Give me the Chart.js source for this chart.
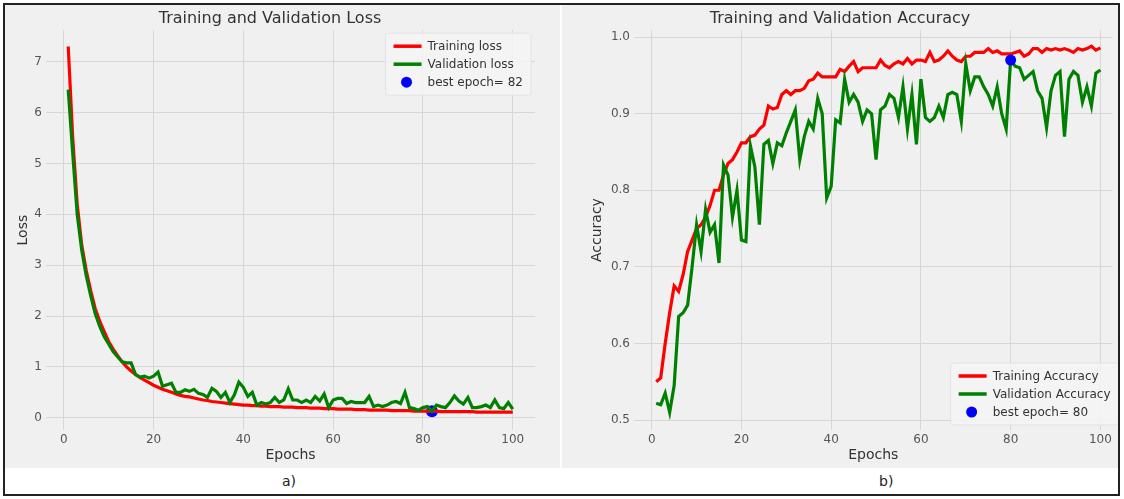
<!DOCTYPE html>
<html>
<head>
<meta charset="utf-8">
<script src="https://cdn.jsdelivr.net/npm/chart.js@4.4.0/dist/chart.umd.min.js"></script>
<style>
  body { margin: 0; background: #fff; font-family: "DejaVu Sans", sans-serif; }
  #frame { position: absolute; left: 3px; top: 3px; width: 1117px; height: 493px; border: 2px solid #222; box-sizing: border-box; background: #fff; overflow: hidden; }
  .panel { position: absolute; top: 0; height: 463px; background: #f0f0f0; }
  #left { left: 0; width: 555px; }
  #right { left: 557px; width: 556px; }
  .cap { position: absolute; top: 468px; font-size: 14px; color: #222; }
</style>
</head>
<body>
<div id="frame">
  <div class="panel" id="left"><canvas id="lossChart" width="555" height="463"></canvas></div>
  <div class="panel" id="right"><canvas id="accChart" width="556" height="463"></canvas></div>
  <div class="cap" style="left: 277px;">a)</div>
  <div class="cap" style="left: 874px;">b)</div>
</div>
<script>
const trainLoss = [7.3, 5.5, 4.2, 3.4, 2.9, 2.5, 2.15, 1.9, 1.7, 1.5,
  1.35, 1.22, 1.1, 1.0, 0.92, 0.85, 0.79, 0.74, 0.69, 0.64,
  0.6, 0.56, 0.53, 0.5, 0.47, 0.44, 0.42, 0.41, 0.39, 0.37,
  0.35, 0.34, 0.32, 0.31, 0.3, 0.29, 0.28, 0.27, 0.26, 0.25,
  0.25, 0.24, 0.24, 0.23, 0.23, 0.22, 0.22, 0.22, 0.21, 0.21,
  0.21, 0.2, 0.2, 0.2, 0.19, 0.19, 0.19, 0.18, 0.18, 0.18,
  0.17, 0.17, 0.17, 0.17, 0.16, 0.16, 0.16, 0.15, 0.15, 0.15,
  0.15, 0.15, 0.14, 0.14, 0.14, 0.14, 0.14, 0.13, 0.13, 0.13,
  0.13, 0.13, 0.13, 0.12, 0.12, 0.12, 0.12, 0.12, 0.12, 0.12,
  0.12, 0.11, 0.11, 0.11, 0.11, 0.11, 0.11, 0.11, 0.11, 0.11];
const valLoss = [6.45, 5.2, 4.0, 3.3, 2.8, 2.4, 2.05, 1.8, 1.6, 1.45,
  1.3, 1.2, 1.1, 1.08, 1.08, 0.85, 0.8, 0.82, 0.78, 0.82,
  0.9, 0.62, 0.65, 0.68, 0.5, 0.5, 0.55, 0.52, 0.56, 0.48,
  0.46, 0.4, 0.58, 0.52, 0.4, 0.5, 0.3, 0.45, 0.7, 0.6,
  0.42, 0.5, 0.25, 0.3, 0.27, 0.3, 0.4, 0.3, 0.35, 0.57,
  0.35, 0.35, 0.3, 0.35, 0.3, 0.42, 0.33, 0.47, 0.2, 0.35,
  0.38, 0.38, 0.28, 0.32, 0.3, 0.3, 0.3, 0.42, 0.22, 0.25,
  0.22, 0.25, 0.3, 0.32, 0.28, 0.5, 0.2, 0.18, 0.15, 0.2,
  0.22, 0.13, 0.25, 0.22, 0.2, 0.3, 0.43, 0.33, 0.27, 0.4,
  0.2, 0.2, 0.22, 0.25, 0.2, 0.35, 0.2, 0.18, 0.3, 0.17];
const trainAcc = [0.55, 0.555, 0.6, 0.64, 0.675, 0.668, 0.69, 0.72, 0.735, 0.75,
  0.755, 0.765, 0.78, 0.8, 0.8, 0.82, 0.835, 0.84, 0.85, 0.862,
  0.862, 0.87, 0.872, 0.88, 0.885, 0.91, 0.906, 0.908, 0.925, 0.93,
  0.925, 0.93, 0.93, 0.933, 0.943, 0.945, 0.953, 0.948, 0.948, 0.948,
  0.948, 0.958, 0.955, 0.962, 0.968, 0.955, 0.96, 0.96, 0.96, 0.96,
  0.97, 0.963, 0.96, 0.965, 0.968, 0.965, 0.972, 0.965, 0.97, 0.97,
  0.968, 0.98, 0.968, 0.97, 0.975, 0.982, 0.975, 0.97, 0.968, 0.975,
  0.975, 0.98, 0.98, 0.98, 0.985, 0.98, 0.982, 0.978, 0.978, 0.978,
  0.98, 0.982, 0.975, 0.978, 0.985, 0.985, 0.98, 0.985, 0.983, 0.985,
  0.983, 0.985, 0.983, 0.98, 0.985, 0.983, 0.985, 0.988, 0.983, 0.986];
const valAcc = [0.522, 0.52, 0.535, 0.51, 0.545, 0.635, 0.64, 0.65, 0.7, 0.755,
  0.72, 0.775, 0.745, 0.755, 0.705, 0.833, 0.82, 0.765, 0.8, 0.735,
  0.733, 0.858, 0.83, 0.755, 0.86, 0.865, 0.835, 0.862, 0.858, 0.875,
  0.89, 0.905, 0.84, 0.87, 0.89, 0.88, 0.92, 0.9, 0.79, 0.805,
  0.892, 0.888, 0.945, 0.915, 0.925, 0.915, 0.89, 0.905, 0.9, 0.84,
  0.905, 0.91, 0.925, 0.92, 0.895, 0.935, 0.88, 0.925, 0.86, 0.945,
  0.895, 0.89, 0.895, 0.91, 0.895, 0.925, 0.928, 0.925, 0.89, 0.965,
  0.93, 0.948, 0.948, 0.935, 0.925, 0.91, 0.935, 0.9, 0.88, 0.97,
  0.962, 0.96, 0.945, 0.95, 0.955, 0.93, 0.92, 0.882, 0.93, 0.95,
  0.955, 0.87, 0.945, 0.955, 0.95, 0.915, 0.935, 0.91, 0.953, 0.957];
const lossTicks = [0, 1, 2, 3, 4, 5, 6, 7];
const accTicks = [0.5, 0.6, 0.7, 0.8, 0.9, 1.0];
const epochTicks = [0, 20, 40, 60, 80, 100];
const bestLossEpoch = 82;
const bestAccEpoch = 80;

const epochs = trainLoss.map((_, i) => i + 1);
const pts = (arr) => arr.map((v, i) => ({ x: epochs[i], y: v }));

const FONT = "DejaVu Sans";
const GRID = "#d7d7d7";

// legend drawn inside the plot area, like matplotlib
function insideLegend(items, corner) {
  return {
    id: "insideLegend",
    afterDatasetsDraw(chart) {
      const { ctx, chartArea } = chart;
      ctx.save();
      ctx.font = "12px " + FONT;
      const rowH = 18;
      let w = 0;
      items.forEach(it => { w = Math.max(w, ctx.measureText(it.text).width); });
      const boxW = w + 50, boxH = rowH * items.length + 8;
      let x0, y0;
      if (corner === "tr") { x0 = chartArea.right - boxW - 4; y0 = chartArea.top + 3; }
      else { x0 = chartArea.right - boxW + 6; y0 = chartArea.bottom - boxH - 5; }
      ctx.fillStyle = "rgba(244,244,244,0.85)";
      ctx.strokeStyle = "#e2e2e2";
      ctx.lineWidth = 1;
      ctx.beginPath();
      ctx.roundRect(x0, y0, boxW, boxH, 3);
      ctx.fill();
      ctx.stroke();
      items.forEach((it, i) => {
        const y = y0 + 4 + rowH * i + rowH / 2;
        if (it.type === "line") {
          ctx.strokeStyle = it.color;
          ctx.lineWidth = 3.5;
          ctx.beginPath();
          ctx.moveTo(x0 + 8, y);
          ctx.lineTo(x0 + 36, y);
          ctx.stroke();
        } else {
          ctx.fillStyle = it.color;
          ctx.beginPath();
          ctx.arc(x0 + 21, y, 5.5, 0, Math.PI * 2);
          ctx.fill();
        }
        ctx.fillStyle = "#333";
        ctx.textBaseline = "middle";
        ctx.fillText(it.text, x0 + 42, y + 1);
      });
      ctx.restore();
    }
  };
}

function makeOptions(cfg) {
  return {
    responsive: false,
    animation: false,
    layout: { padding: cfg.padding },
    plugins: {
      legend: { display: false },
      tooltip: { enabled: false },
      title: {
        display: true,
        text: cfg.title,
        color: "#333",
        font: { family: FONT, size: 16, weight: "normal" },
        padding: { top: 4, bottom: 2 }
      }
    },
    scales: {
      x: {
        type: "linear",
        min: -3.95,
        max: cfg.xMax,
        afterBuildTicks: (s) => { s.ticks = epochTicks.map(v => ({ value: v })); },
        afterFit: (s) => { s.height = 38; },
        grid: { color: GRID, drawTicks: false },
        border: { display: false },
        ticks: { color: "#555", padding: 3, font: { family: FONT, size: 12 } },
        title: { display: true, text: "Epochs", color: "#333", font: { family: FONT, size: 14 }, padding: { top: 2, bottom: 4 } }
      },
      y: {
        min: cfg.yMin,
        max: cfg.yMax,
        afterBuildTicks: (s) => { s.ticks = cfg.yTicks.map(v => ({ value: v })); },
        afterFit: (s) => { s.width = cfg.yWidth; },
        grid: { color: GRID, drawTicks: false },
        border: { display: false },
        ticks: { color: "#555", padding: 4, font: { family: FONT, size: 12 }, callback: cfg.fmt },
        title: { display: true, text: cfg.yTitle, color: "#333", font: { family: FONT, size: 14 }, padding: { top: cfg.yTitlePad, bottom: 0 } }
      }
    }
  };
}

new Chart(document.getElementById("lossChart"), {
  type: "line",
  data: {
    datasets: [
      { label: "Training loss", data: pts(trainLoss), borderColor: "red", borderWidth: 3.2, pointRadius: 0, tension: 0, order: 2 },
      { label: "Validation loss", data: pts(valLoss), borderColor: "green", borderWidth: 3.2, pointRadius: 0, tension: 0, order: 1 },
      { label: "best epoch= " + bestLossEpoch, data: [{ x: bestLossEpoch, y: valLoss[bestLossEpoch - 1] }], showLine: false, pointRadius: 6, pointBackgroundColor: "blue", pointBorderWidth: 0, order: 3 }
    ]
  },
  options: makeOptions({
    title: "Training and Validation Loss", yTitle: "Loss",
    padding: { left: 0, right: 25, top: 0, bottom: 0 },
    xMax: 104.95, yMin: -0.24, yMax: 7.62, yTicks: lossTicks, yWidth: 41, yTitlePad: 10,
    fmt: (v) => String(v)
  }),
  plugins: [insideLegend([
    { type: "line", color: "red", text: "Training loss" },
    { type: "line", color: "green", text: "Validation loss" },
    { type: "dot", color: "blue", text: "best epoch= " + bestLossEpoch }
  ], "tr")]
});

new Chart(document.getElementById("accChart"), {
  type: "line",
  data: {
    datasets: [
      { label: "Training Accuracy", data: pts(trainAcc), borderColor: "red", borderWidth: 3.2, pointRadius: 0, tension: 0, order: 2 },
      { label: "Validation Accuracy", data: pts(valAcc), borderColor: "green", borderWidth: 3.2, pointRadius: 0, tension: 0, order: 1 },
      { label: "best epoch= " + bestAccEpoch, data: [{ x: bestAccEpoch, y: valAcc[bestAccEpoch - 1] }], showLine: false, pointRadius: 5.5, pointBackgroundColor: "blue", pointBorderWidth: 0, order: 0 }
    ]
  },
  options: makeOptions({
    title: "Training and Validation Accuracy", yTitle: "Accuracy",
    padding: { left: 0, right: 0, top: 0, bottom: 0 },
    xMax: 102.7, yMin: 0.487, yMax: 1.009, yTicks: accTicks, yWidth: 72, yTitlePad: 27,
    fmt: (v) => v.toFixed(1)
  }),
  plugins: [insideLegend([
    { type: "line", color: "red", text: "Training Accuracy" },
    { type: "line", color: "green", text: "Validation Accuracy" },
    { type: "dot", color: "blue", text: "best epoch= " + bestAccEpoch }
  ], "br")]
});
</script>
</body>
</html>
